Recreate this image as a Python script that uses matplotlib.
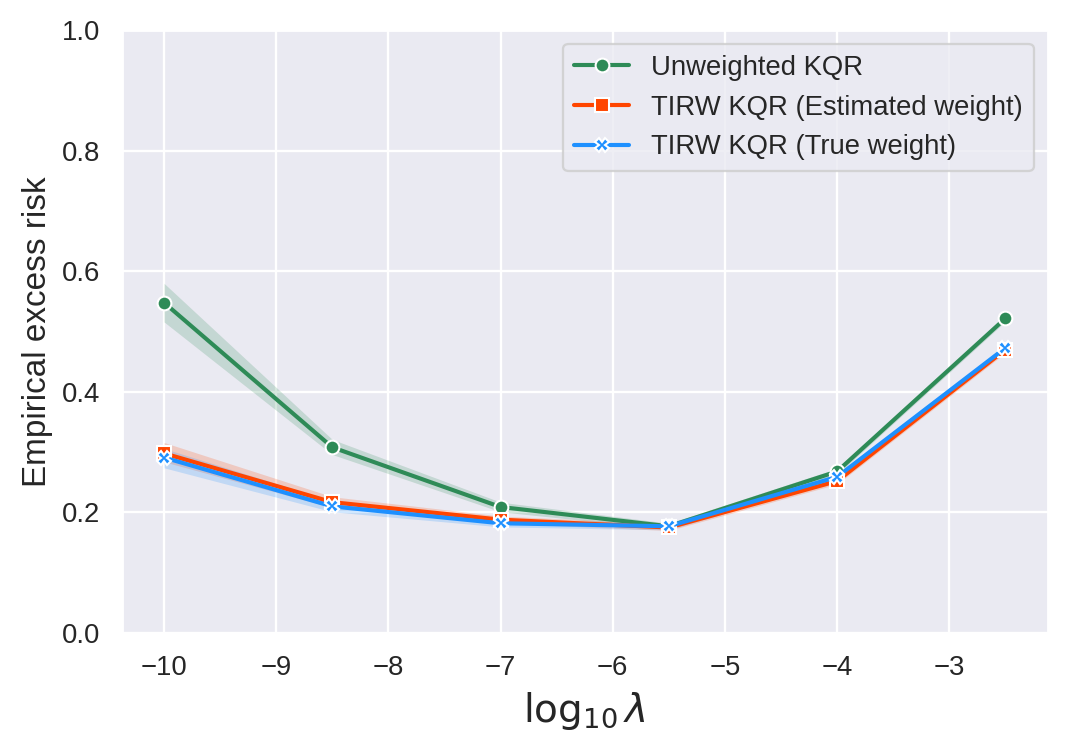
import matplotlib
matplotlib.use("Agg")
import matplotlib.pyplot as plt
import numpy as np
import seaborn as sns

# log10(lambda) grid
log_lambda = [-10, -8.5, -7, -5.5, -4, -2.5]

# mean empirical excess risk per method
unweighted_mean = [0.548, 0.308, 0.209, 0.177, 0.268, 0.522]
unweighted_low = [0.516, 0.296, 0.201, 0.172, 0.263, 0.517]
unweighted_high = [0.580, 0.321, 0.217, 0.182, 0.273, 0.527]

estimated_mean = [0.298, 0.217, 0.188, 0.175, 0.252, 0.470]
estimated_low = [0.284, 0.208, 0.182, 0.170, 0.247, 0.465]
estimated_high = [0.316, 0.226, 0.194, 0.181, 0.257, 0.475]

true_mean = [0.291, 0.210, 0.182, 0.177, 0.259, 0.473]
true_low = [0.274, 0.201, 0.176, 0.171, 0.254, 0.468]
true_high = [0.306, 0.219, 0.188, 0.183, 0.264, 0.478]

sns.set_theme(style="darkgrid")
plt.rcParams["font.family"] = ["Liberation Sans", "DejaVu Sans"]
plt.rcParams["mathtext.fontset"] = "dejavusans"

fig = plt.figure(figsize=(1070 / 165, 754 / 165), dpi=165)
ax = fig.add_axes([0.114, 0.1605, 0.865, 0.7995])

series = [
    ("Unweighted KQR", unweighted_mean, unweighted_low, unweighted_high, "seagreen", "o"),
    ("TIRW KQR (Estimated weight)", estimated_mean, estimated_low, estimated_high, "orangered", "s"),
    ("TIRW KQR (True weight)", true_mean, true_low, true_high, "dodgerblue", "X"),
]

for label, mean, low, high, color, marker in series:
    ax.fill_between(log_lambda, low, high, color=color, alpha=0.2, linewidth=0)
    ax.plot(log_lambda, mean, color=color, marker=marker, markersize=6,
            markeredgecolor="white", markeredgewidth=0.9, linewidth=1.8, label=label)

ax.set_ylim(0, 1.0)
ax.set_yticks(np.arange(0, 1.01, 0.2))
ax.set_xticks(range(-10, -2))
ax.tick_params(labelsize=12)
ax.set_ylabel("Empirical excess risk", fontsize=14.5)
ax.set_xlabel(r"$\log_{10}\lambda$", fontsize=17)
ax.legend(loc="upper right", fontsize=12)

fig.savefig("out.png", dpi=165)
